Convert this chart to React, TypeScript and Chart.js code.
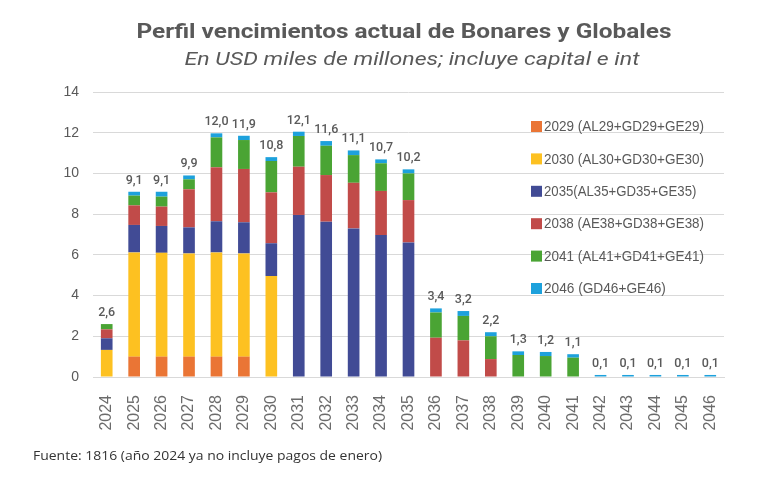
import { useEffect, useRef } from 'react';
import { Chart, registerables } from 'chart.js';
Chart.register(...registerables);

const categories = ['2024','2025','2026','2027','2028','2029','2030','2031','2032','2033','2034','2035','2036','2037','2038','2039','2040','2041','2042','2043','2044','2045','2046'];

const seriesNames = ['2029 (AL29+GD29+GE29)','2030 (AL30+GD30+GE30)','2035(AL35+GD35+GE35)','2038 (AE38+GD38+GE38)','2041 (AL41+GD41+GE41)','2046 (GD46+GE46)'];
const seriesColors = ['#EA7535','#FDC121','#414B95','#C14B49','#4AA434','#1DA1DC'];

const s2029 = [0, 1.0, 1.0, 1.0, 1.0, 1.0, 0, 0, 0, 0, 0, 0, 0, 0, 0, 0, 0, 0, 0, 0, 0, 0, 0];
const s2030 = [1.33, 5.12, 5.1, 5.07, 5.12, 5.07, 4.96, 0, 0, 0, 0, 0, 0, 0, 0, 0, 0, 0, 0, 0, 0, 0, 0];
const s2035 = [0.57, 1.35, 1.32, 1.28, 1.53, 1.53, 1.61, 7.96, 7.63, 7.3, 6.97, 6.61, 0, 0, 0, 0, 0, 0, 0, 0, 0, 0, 0];
const s2038 = [0.44, 0.96, 0.95, 1.87, 2.65, 2.62, 2.5, 2.37, 2.29, 2.24, 2.17, 2.08, 1.93, 1.8, 0.88, 0, 0, 0, 0, 0, 0, 0, 0];
const s2041 = [0.26, 0.48, 0.49, 0.49, 1.47, 1.42, 1.54, 1.51, 1.44, 1.36, 1.36, 1.31, 1.24, 1.2, 1.12, 1.08, 1.03, 0.95, 0, 0, 0, 0, 0];
const s2046 = [0, 0.19, 0.24, 0.19, 0.2, 0.21, 0.19, 0.21, 0.23, 0.23, 0.19, 0.2, 0.2, 0.24, 0.2, 0.18, 0.2, 0.17, 0.1, 0.1, 0.1, 0.1, 0.1];

const totals = [2.6, 9.1, 9.1, 9.9, 12.0, 11.9, 10.8, 12.1, 11.6, 11.1, 10.7, 10.2, 3.4, 3.2, 2.2, 1.3, 1.2, 1.1, 0.1, 0.1, 0.1, 0.1, 0.1];

const yTicks = [0, 2, 4, 6, 8, 10, 12, 14];

const titleText = 'Perfil vencimientos actual de Bonares y Globales';
const subtitleText = 'En USD miles de millones; incluye capital e int';
const footText = 'Fuente: 1816 (año 2024 ya no incluye pagos de enero)';

const allSeries = [s2029, s2030, s2035, s2038, s2041, s2046];

function drawFit(ctx: CanvasRenderingContext2D, text: string, x: number, y: number, font: string, width: number, align: 'left' | 'center') {
  ctx.save();
  ctx.font = font;
  const w = ctx.measureText(text).width;
  const sx = width / w;
  ctx.translate(x, y);
  ctx.scale(sx, 1);
  ctx.textAlign = align;
  ctx.fillText(text, 0, 0);
  ctx.restore();
}

const decor = {
  id: 'decor',
  afterDraw(chart: any) {
    const ctx = chart.ctx as CanvasRenderingContext2D;
    const x = chart.scales.x;
    const y = chart.scales.y;
    ctx.save();
    // totals
    ctx.fillStyle = '#5a5a5a';
    ctx.font = '500 12.5px Roboto';
    ctx.textAlign = 'center';
    ctx.textBaseline = 'bottom';
    categories.forEach((_, i) => {
      const sum = allSeries.reduce((a, s) => a + s[i], 0);
      const px = x.getPixelForValue(i);
      const py = y.getPixelForValue(sum);
      ctx.fillText(totals[i].toFixed(1).replace('.', ','), px, py - 5);
    });
    // title
    ctx.textBaseline = 'middle';
    ctx.fillStyle = '#595959';
    drawFit(ctx, titleText, 396, 25, 'bold 21px Roboto', 535, 'center');
    drawFit(ctx, subtitleText, 404, 52, 'italic 18px Roboto', 455, 'center');
    // legend
    seriesNames.forEach((n, i) => {
      const ly = 119 + i * 32.4;
      ctx.fillStyle = seriesColors[i];
      ctx.fillRect(523, ly - 6, 11, 11);
      ctx.fillStyle = '#595959';
      const w = 160 * (n.length / 21);
      drawFit(ctx, n, 536, ly, '15px "Liberation Sans"', w, 'left');
    });
    // footnote
    ctx.fillStyle = '#333333';
    drawFit(ctx, footText, 25, 448, '12.5px "Open Sans"', 349, 'left');
    ctx.restore();
  },
};

export default function App() {
  const ref = useRef<HTMLCanvasElement>(null);
  useEffect(() => {
    const chart = new Chart(ref.current!, {
      type: 'bar',
      data: {
        labels: categories,
        datasets: allSeries.map((s, i) => ({
          label: seriesNames[i],
          data: s,
          backgroundColor: seriesColors[i],
          borderWidth: 0,
          categoryPercentage: 0.85,
          barPercentage: 0.5,
        })),
      },
      options: {
        animation: false,
        responsive: true,
        maintainAspectRatio: false,
        layout: { padding: { top: 84, left: 0, right: 36, bottom: 40 } },
        plugins: { legend: { display: false }, tooltip: { enabled: false }, title: { display: false } },
        scales: {
          x: {
            stacked: true,
            grid: { display: false },
            border: { display: true, color: '#d9d9d9' },
            ticks: { maxRotation: 90, minRotation: 90, padding: 10, color: '#6b6b6b', font: { size: 16, family: 'Liberation Sans' } },
            afterFit: (s: any) => { s.height = 56; },
          },
          y: {
            stacked: true,
            min: 0,
            max: 14,
            afterBuildTicks: (s: any) => { s.ticks = yTicks.map((v) => ({ value: v })); },
            grid: { color: '#d9d9d9', drawTicks: false },
            border: { display: false },
            ticks: { padding: 14, color: '#595959', font: { size: 14, family: 'Liberation Sans' } },
            afterFit: (s: any) => { s.width = 85; },
          },
        },
      },
      plugins: [decor],
    });
    return () => chart.destroy();
  }, []);
  return (
    <div style={{ width: 752, height: 465, position: 'relative' }}>
      <canvas ref={ref} />
    </div>
  );
}
